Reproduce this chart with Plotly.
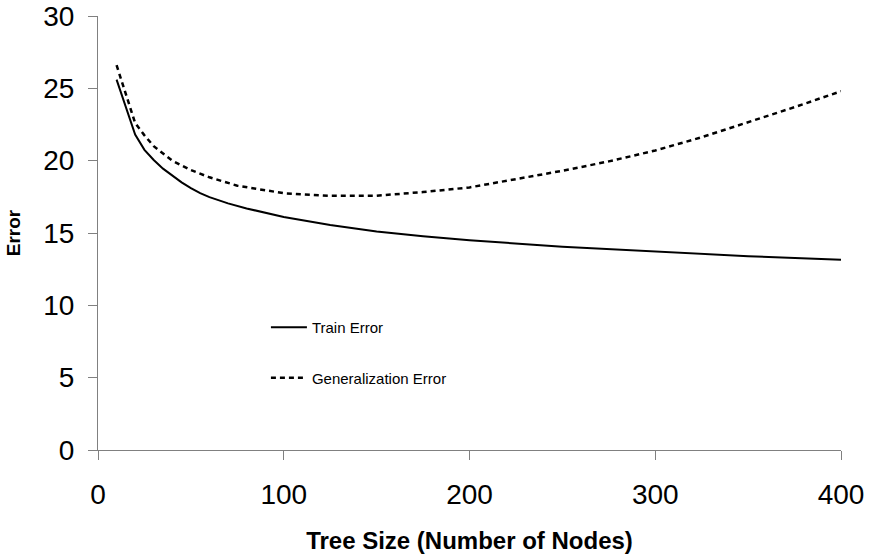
import plotly.graph_objects as go

# Tree size (number of nodes) and error rates
train_nodes = [10, 20, 25, 30, 35, 40, 45, 50, 55, 60, 70, 80, 90, 100, 125, 150, 175, 200,
               250, 300, 350, 400]
train_error = [25.6, 21.8, 20.75, 20.05, 19.45, 18.95, 18.5, 18.1, 17.75, 17.48, 17.05, 16.7,
               16.38, 16.1, 15.55, 15.1, 14.78, 14.5, 14.05, 13.7, 13.4, 13.15]

gen_nodes = [10, 20, 25, 30, 40, 50, 60, 75, 100, 125, 150, 175, 200, 225, 250, 275, 300,
             325, 350, 375, 400]
gen_error = [26.6, 22.6, 21.75, 21.0, 20.0, 19.35, 18.85, 18.27, 17.75, 17.57, 17.58, 17.83,
             18.15, 18.7, 19.3, 19.95, 20.7, 21.62, 22.65, 23.7, 24.8]

x_ticks = [0, 100, 200, 300, 400]
y_ticks = [0, 5, 10, 15, 20, 25, 30]

FONT = "Liberation Sans, Arial, sans-serif"
AXIS_GREY = "#808080"

fig = go.Figure()
fig.add_trace(go.Scatter(
    x=train_nodes, y=train_error, mode="lines", name="Train Error",
    legendgroup="train", line=dict(color="black", width=2),
))
fig.add_trace(go.Scatter(
    x=gen_nodes, y=gen_error, mode="lines", name="Generalization Error",
    legendgroup="gen", line=dict(color="black", width=2.5, dash="5px,4px"),
))

fig.update_layout(
    width=873, height=555, autosize=False,
    margin=dict(l=98, r=32, t=16, b=105),
    paper_bgcolor="white", plot_bgcolor="white",
    font=dict(family=FONT, color="black"),
    showlegend=True,
    legend=dict(
        x=0.226, y=0.320, xanchor="left", yanchor="top",
        bgcolor="rgba(0,0,0,0)", borderwidth=0,
        font=dict(family=FONT, size=15, color="black"),
        traceorder="grouped", tracegroupgap=28, itemwidth=36,
    ),
    xaxis=dict(
        range=[0, 400], tickvals=x_ticks, ticktext=[str(v) for v in x_ticks],
        showline=True, linecolor=AXIS_GREY, linewidth=1,
        ticks="outside", ticklen=9, tickcolor=AXIS_GREY, tickwidth=1,
        showgrid=False, zeroline=False, automargin=False,
        tickfont=dict(family=FONT, size=28, color="black"),
        ticklabelstandoff=10,
        title=dict(text="<b>Tree Size (Number of Nodes)</b>",
                   font=dict(family=FONT, size=24, color="black"), standoff=23),
    ),
    yaxis=dict(
        range=[0, 30], tickvals=y_ticks, ticktext=[str(v) for v in y_ticks],
        showline=True, linecolor=AXIS_GREY, linewidth=1,
        ticks="outside", ticklen=9, tickcolor=AXIS_GREY, tickwidth=1,
        showgrid=False, zeroline=False, automargin=False,
        tickfont=dict(family=FONT, size=28, color="black"),
        ticklabelstandoff=8,
        title=dict(text="<b>Error</b>",
                   font=dict(family=FONT, size=19, color="black"), standoff=17),
    ),
)

fig.write_html("out.html")
